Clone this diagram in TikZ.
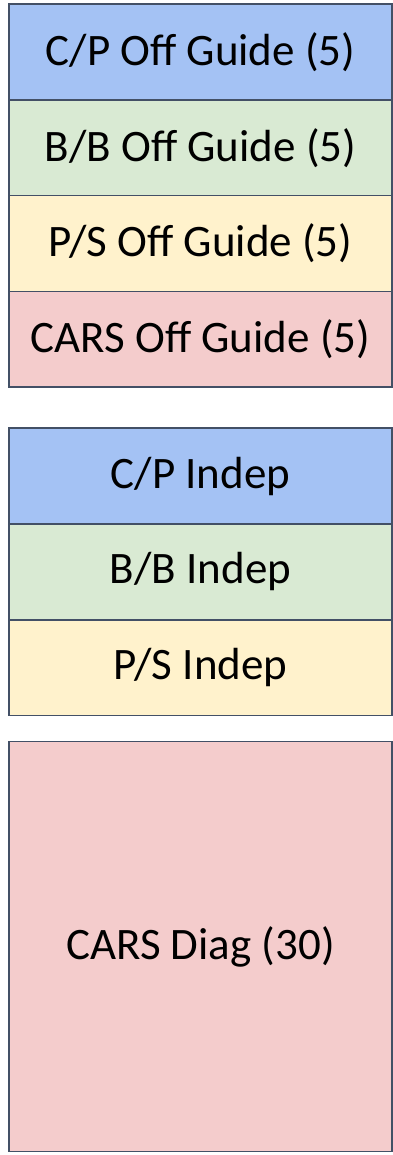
\documentclass[tikz,border=0pt]{standalone}
\usepackage{fontspec}
\setmainfont{Carlito}
\usetikzlibrary{positioning}
\definecolor{cpblue}{HTML}{A4C2F4}
\definecolor{bbgreen}{HTML}{D9EAD3}
\definecolor{psyellow}{HTML}{FFF2CC}
\definecolor{carspink}{HTML}{F4CCCC}
\definecolor{edge}{HTML}{435066}
\tikzset{
  block/.style={draw=edge,line width=1.6pt,minimum width=383pt,minimum height=95.8pt,
    inner sep=0pt,outer sep=0pt,font=\fontsize{45}{50}\selectfont},
}
\begin{document}
\begin{tikzpicture}[x=1pt,y=1pt]
\useasboundingbox (0,0) rectangle (393,-1155);
% off guide
\node [block,fill=cpblue,anchor=north west] (cpoff) at (9,-4) {C/P Off Guide (5)};
\node [block,fill=bbgreen,below=0pt of cpoff] (bboff) {B/B Off Guide (5)};
\node [block,fill=psyellow,below=0pt of bboff] (psoff) {P/S Off Guide (5)};
\node [block,fill=carspink,below=0pt of psoff] (carsoff) {CARS Off Guide (5)};
% indep
\node [block,fill=cpblue,below=41pt of carsoff] (cpind) {C/P Indep};
\node [block,fill=bbgreen,below=0pt of cpind] (bbind) {B/B Indep};
\node [block,fill=psyellow,below=0pt of bbind] (psind) {P/S Indep};
% diag
\node [block,fill=carspink,minimum height=410pt,below=26pt of psind] (carsdiag) {CARS Diag (30)};
\end{tikzpicture}
\end{document}
